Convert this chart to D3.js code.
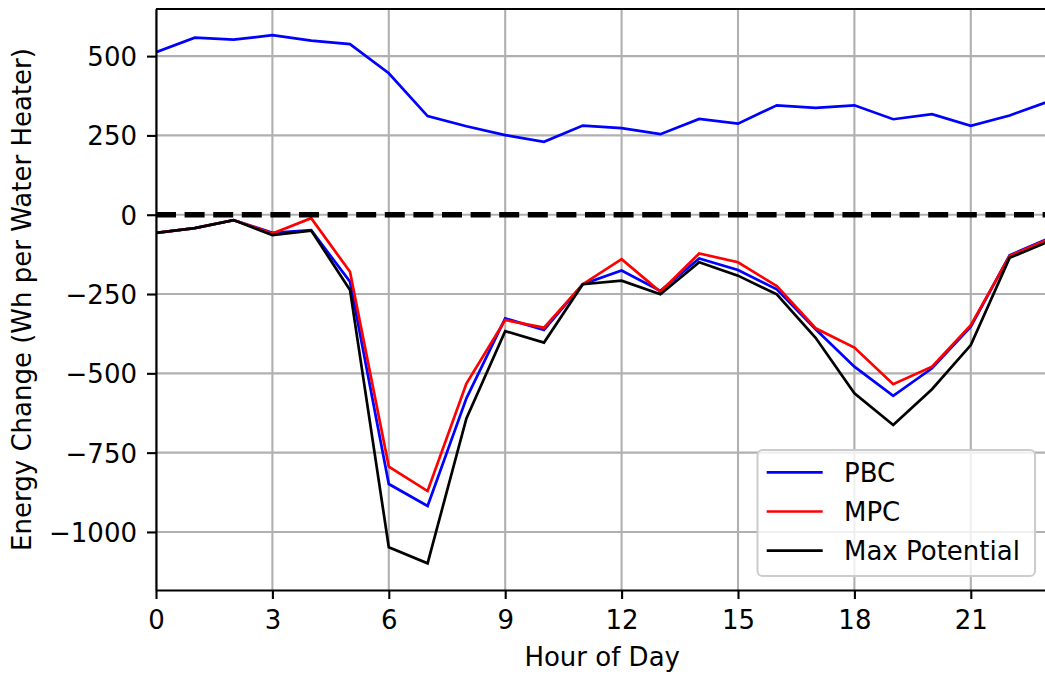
<!DOCTYPE html>
<html>
<head>
<meta charset="utf-8">
<script src="https://cdn.jsdelivr.net/npm/d3@7"></script>
<style>
  html, body { margin: 0; padding: 0; background: #fff; }
  svg { display: block; font-family: "DejaVu Sans", sans-serif; }
</style>
</head>
<body>
<script>
// hour of day, 0..23
const hours = [0,1,2,3,4,5,6,7,8,9,10,11,12,13,14,15,16,17,18,19,20,21,22,23];

const pbcUp = [512,558,552,566,549,538,446,311,279,251,230,281,273,254,302,287,345,337,345,301,317,280,313,357];
const pbc   = [-57,-42,-17,-57,-49,-211,-849,-918,-579,-327,-363,-219,-176,-240,-138,-174,-235,-361,-479,-571,-484,-353,-128,-75];
const mpc   = [-57,-42,-17,-59,-11,-180,-794,-871,-532,-332,-356,-219,-140,-243,-122,-150,-225,-358,-419,-534,-479,-348,-130,-77];
const maxPot = [-57,-42,-17,-64,-50,-237,-1048,-1099,-642,-367,-403,-219,-208,-251,-150,-192,-251,-388,-563,-663,-550,-411,-136,-85];

const xTicks = [0,3,6,9,12,15,18,21];
const yTicks = [500,250,0,-250,-500,-750,-1000];

const seriesNames = ["PBC","MPC","Max Potential"];
const seriesColors = ["#0000ff","#ff0000","#000000"];

window.onload = function(){
  const WIDTH = 1045, HEIGHT = 675;
  const M = {left:156, top:9, right:1048.4, bottom:590};
  const FS = 26;

  const svg = d3.select("body").append("svg")
      .attr("width", WIDTH).attr("height", HEIGHT);

  const x = d3.scaleLinear().domain([0,23]).range([M.left, M.right]);
  const y = d3.scaleLinear().domain([-1183, 648.5]).range([M.bottom, M.top]);

  svg.append("clipPath").attr("id","plotclip")
    .append("rect")
      .attr("x", M.left).attr("y", M.top)
      .attr("width", M.right - M.left).attr("height", M.bottom - M.top);

  // grid
  const grid = svg.append("g").attr("stroke","#b0b0b0").attr("stroke-width",2.1);
  grid.selectAll("line.gx").data(xTicks).enter().append("line")
      .attr("x1", d=>x(d)).attr("x2", d=>x(d))
      .attr("y1", M.top).attr("y2", M.bottom);
  grid.selectAll("line.gy").data(yTicks).enter().append("line")
      .attr("x1", M.left).attr("x2", M.right)
      .attr("y1", d=>y(d)).attr("y2", d=>y(d));

  const line = d3.line().x((d,i)=>x(hours[i])).y(d=>y(d));
  const plot = svg.append("g").attr("clip-path","url(#plotclip)");

  // upward PBC line and the three downward series
  const lines = [[pbcUp,0],[pbc,0],[mpc,1],[maxPot,2]];
  plot.selectAll("path.series").data(lines).enter().append("path")
      .attr("d", d=>line(d[0]))
      .attr("fill","none")
      .attr("stroke", d=>seriesColors[d[1]])
      .attr("stroke-width", 2.7)
      .attr("stroke-linejoin","miter");

  // zero reference
  plot.append("line")
      .attr("x1", x(0)).attr("x2", x(23))
      .attr("y1", y(0)).attr("y2", y(0))
      .attr("stroke","#000").attr("stroke-width",5.4)
      .attr("stroke-dasharray","20,8.6");

  // axes
  const xAxis = d3.axisBottom(x).tickValues(xTicks).tickSize(9).tickPadding(8).tickSizeOuter(0);
  const gx = svg.append("g").attr("transform",`translate(0,${M.bottom})`).call(xAxis);
  const yAxis = d3.axisLeft(y).tickValues(yTicks).tickSize(9).tickPadding(10).tickSizeOuter(0)
      .tickFormat(d=>d3.format("")(d).replace("-","\u2212"));
  const gy = svg.append("g").attr("transform",`translate(${M.left},0)`).call(yAxis);
  [gx,gy].forEach(g=>{
    g.select(".domain").attr("stroke","#000").attr("stroke-width",2.1);
    g.selectAll(".tick line").attr("stroke","#000").attr("stroke-width",2.1);
    g.selectAll(".tick text").attr("fill","#000")
      .style("font-family",'"DejaVu Sans", sans-serif').style("font-size",FS+"px");
  });
  gx.selectAll(".tick text").attr("dy",null).attr("y",null)
      .attr("transform",null).attr("dominant-baseline","auto").attr("y",39);
  gy.selectAll(".tick text").attr("dy","0.36em");

  // top spine
  svg.append("line").attr("x1",M.left).attr("x2",M.right)
     .attr("y1",M.top).attr("y2",M.top)
     .attr("stroke","#000").attr("stroke-width",2.1);

  // axis labels
  svg.append("text").attr("x",(M.left+M.right)/2).attr("y",666)
     .attr("text-anchor","middle").style("font-size",FS+"px")
     .text("Hour of Day");
  svg.append("text")
     .attr("transform",`translate(31,${(M.top+M.bottom)/2}) rotate(-90)`)
     .attr("text-anchor","middle").style("font-size",FS+"px")
     .text("Energy Change (Wh per Water Heater)");

  // legend
  const leg = svg.append("g");
  leg.append("rect").attr("x",757.5).attr("y",450).attr("width",277.5).attr("height",126)
     .attr("rx",5).attr("fill","#fff").attr("fill-opacity",0.8)
     .attr("stroke","#cccccc").attr("stroke-width",2);
  const items = leg.selectAll("g.item").data(seriesNames).enter().append("g")
     .attr("transform",(d,i)=>`translate(0,${472.3 + i*39.2})`);
  items.append("line").attr("x1",766.7).attr("x2",822.7)
     .attr("stroke",(d,i)=>seriesColors[i]).attr("stroke-width",2.7);
  items.append("text").attr("x",844).attr("y",9.4)
     .style("font-size",FS+"px").text(d=>d);
};
</script>
</body>
</html>
